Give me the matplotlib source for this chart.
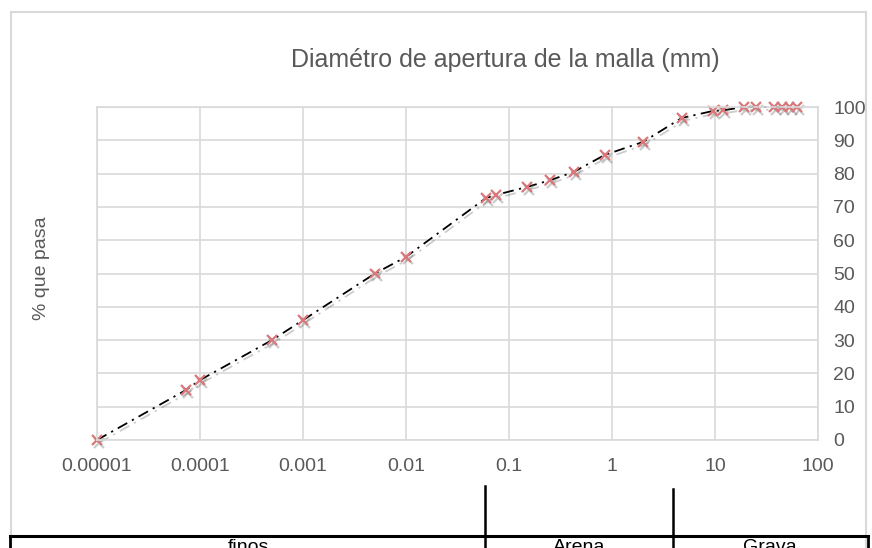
import matplotlib.pyplot as plt
import matplotlib.patheffects as pe
from matplotlib.lines import Line2D

plt.rcParams["font.family"] = ["Liberation Sans", "DejaVu Sans"]

# curva granulométrica: abertura de malla (mm) vs % que pasa
diametro = [0.00001, 0.000073, 0.0001, 0.0005, 0.001, 0.005, 0.01,
            0.06, 0.075, 0.15, 0.25, 0.425, 0.85, 2.0, 4.75,
            9.5, 12.0, 19.0, 25.0, 37.5, 45.0, 53.0, 63.0]
pasa = [0, 15, 18, 30, 36, 50, 55,
        72.7, 73.6, 76, 78, 80.5, 85.6, 89.5, 96.7,
        98.8, 99, 100, 100, 100, 100, 100, 100]

xticks = [0.00001, 0.0001, 0.001, 0.01, 0.1, 1, 10, 100]
xtick_labels = ["0.00001", "0.0001", "0.001", "0.01", "0.1", "1", "10", "100"]
yticks = list(range(0, 101, 10))

# tabla de fracciones bajo el eje
fracciones = ["finos", "Arena", "Grava"]

W, H = 872, 548
fig = plt.figure(figsize=(W / 100, H / 100), dpi=100)
ax = fig.add_axes([97 / W, 1 - 440 / H, (818 - 97) / W, (440 - 107) / H])

gray_txt = "#595959"
grid_c = "#d9d9d9"

ax.plot(diametro, pasa, color="black", lw=1.3, dashes=(6, 3, 1.2, 3),
        marker="x", ms=7, mew=1.6, mec="#d9777a", clip_on=False,
        path_effects=[pe.SimpleLineShadow(offset=(1.5, -2), shadow_color="#555555", alpha=0.3),
                      pe.Normal()])

ax.set_xscale("log")
ax.set_xlim(0.00001, 100)
ax.set_ylim(0, 100)
ax.set_xticks(xticks)
ax.set_xticklabels(xtick_labels)
ax.minorticks_off()
ax.set_yticks(yticks)
ax.yaxis.tick_right()
ax.tick_params(axis="both", length=0, labelsize=14, labelcolor=gray_txt)
ax.tick_params(axis="x", pad=13)
ax.tick_params(axis="y", pad=11)
ax.grid(True, color=grid_c, lw=1.2)
ax.set_axisbelow(True)
for s in ax.spines.values():
    s.set_color(grid_c)
    s.set_linewidth(1.2)

fig.text(505 / W, 1 - 60 / H, "Diamétro de apertura de la malla (mm)",
         ha="center", va="center", fontsize=18, color=gray_txt)
fig.text(42 / W, 1 - 268 / H, "% que pasa", rotation=90,
         ha="center", va="center", fontsize=14, color=gray_txt)


def px_line(x0, y0, x1, y1, **kw):
    fig.add_artist(Line2D([x0 / W, x1 / W], [1 - y0 / H, 1 - y1 / H],
                          transform=fig.transFigure, **kw))


# borde del área de gráfico
px_line(11, 12, 11, 548, color=grid_c, lw=1.5)
px_line(11, 12, 866, 12, color=grid_c, lw=1.5)
px_line(866, 12, 866, 548, color=grid_c, lw=1.5)

# tabla inferior
px_line(10, 536, 868, 536, color="black", lw=2.2)
px_line(10, 536, 10, 548, color="black", lw=2)
px_line(868, 536, 868, 548, color="black", lw=2)
px_line(485, 486, 485, 548, color="black", lw=1.8)
px_line(673, 489, 673, 548, color="black", lw=1.8)

for label, xc in zip(fracciones, [248, 579, 770]):
    fig.text(xc / W, 1 - 548 / H, label, ha="center", va="center",
             fontsize=14, color="black")

fig.savefig("out.png", dpi=100)
